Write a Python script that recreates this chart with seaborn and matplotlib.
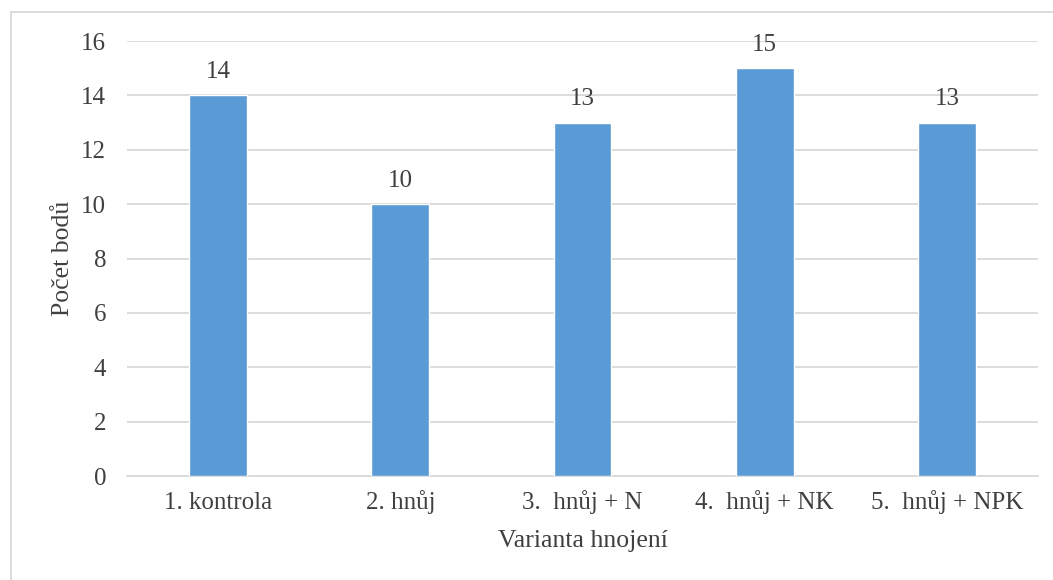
import matplotlib
matplotlib.use("Agg")
import matplotlib.pyplot as plt
import seaborn as sns
import pandas as pd
from matplotlib.patches import Rectangle

categories = ["1. kontrola", "2. hnůj", "3.  hnůj + N", "4.  hnůj + NK", "5.  hnůj + NPK"]
values = [14, 10, 13, 15, 13]
y_ticks = [0, 2, 4, 6, 8, 10, 12, 14, 16]

sns.set_theme(style="white")
plt.rcParams["font.family"] = ["Liberation Serif", "DejaVu Serif"]

text_color = "#404040"
grid_color = "#D9D9D9"
bar_color = "#5B9BD5"

df = pd.DataFrame({"varianta": categories, "body": values})

fig = plt.figure(figsize=(10.53, 5.80), dpi=100)
ax = fig.add_axes([0.1206, 0.1793, 0.8652, 0.75])

sns.barplot(data=df, x="varianta", y="body", color=bar_color, width=0.318,
            saturation=1, ax=ax, zorder=3)

ax.set_ylim(0, 16)
ax.set_xlim(-0.5, len(categories) - 0.5)
ax.set_yticks(y_ticks)
ax.yaxis.grid(True, color=grid_color, linewidth=1.3, zorder=0)
ax.set_axisbelow(True)
for side in ["top", "right", "left"]:
    ax.spines[side].set_visible(False)
ax.spines["bottom"].set_color(grid_color)
ax.spines["bottom"].set_linewidth(1.3)
ax.tick_params(axis="both", length=0, labelsize=18, labelcolor=text_color)
ax.tick_params(axis="y", pad=15)
ax.tick_params(axis="x", pad=24)
# align category labels on a common baseline
plt.setp(ax.get_xticklabels(), va="baseline")

for i, v in enumerate(values):
    ax.annotate(str(v), (i, v), xytext=(0, 9), textcoords="offset points",
                ha="center", va="bottom", fontsize=18, color=text_color)

ax.set_xlabel("Varianta hnojení", fontsize=18.5, color=text_color, labelpad=11)
ax.set_ylabel("Počet bodů", fontsize=18.5, color=text_color, labelpad=5)

fig.patches.append(Rectangle((11 / 1053, -0.01), 1.02, 1 - 12 / 580 + 0.01,
                             transform=fig.transFigure, fill=False,
                             edgecolor=grid_color, linewidth=1.3))

fig.savefig("out.png", dpi=100)
